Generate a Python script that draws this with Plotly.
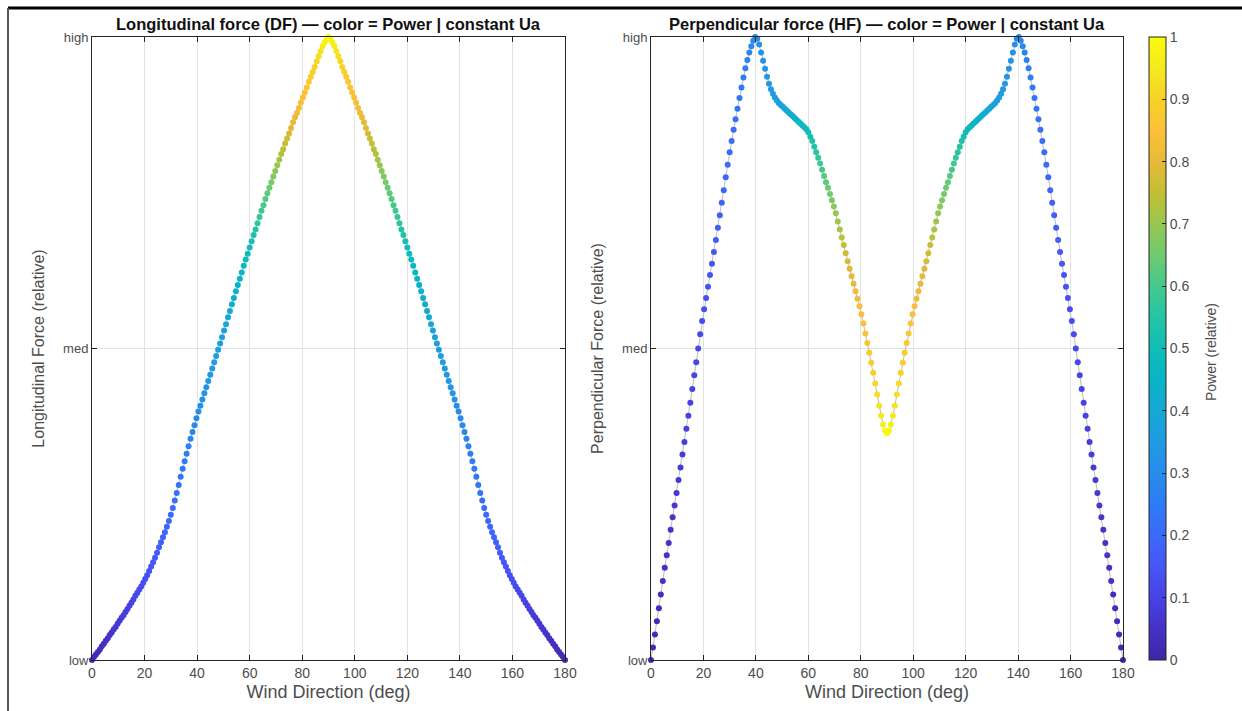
import plotly.graph_objects as go

# ---------------- data ----------------
# wind direction grid: 0 .. 180 deg sampled every 0.75 deg (241 samples)
DIR_STEP = 0.75
direction_deg = [i * DIR_STEP for i in range(241)]

df_rel = [
    0.000, 0.005, 0.009, 0.013, 0.017, 0.022, 0.026, 0.031,
    0.035, 0.040, 0.044, 0.049, 0.053, 0.058, 0.063, 0.068,
    0.072, 0.077, 0.082, 0.087, 0.092, 0.097, 0.103, 0.108,
    0.113, 0.118, 0.124, 0.130, 0.136, 0.143, 0.150, 0.157,
    0.164, 0.172, 0.181, 0.189, 0.197, 0.205, 0.214, 0.223,
    0.233, 0.244, 0.256, 0.268, 0.281, 0.294, 0.307, 0.319,
    0.331, 0.343, 0.355, 0.366, 0.377, 0.388, 0.399, 0.408,
    0.418, 0.428, 0.438, 0.448, 0.458, 0.468, 0.478, 0.488,
    0.498, 0.508, 0.518, 0.529, 0.539, 0.550, 0.560, 0.571,
    0.581, 0.592, 0.602, 0.612, 0.622, 0.633, 0.643, 0.652,
    0.662, 0.672, 0.682, 0.691, 0.701, 0.711, 0.721, 0.730,
    0.740, 0.749, 0.758, 0.767, 0.776, 0.785, 0.794, 0.803,
    0.812, 0.820, 0.829, 0.837, 0.845, 0.854, 0.863, 0.871,
    0.878, 0.886, 0.895, 0.903, 0.911, 0.919, 0.928, 0.936,
    0.944, 0.952, 0.961, 0.969, 0.977, 0.985, 0.991, 0.996,
    1.000,
    0.996, 0.991, 0.985, 0.977, 0.969, 0.961, 0.952, 0.944,
    0.936, 0.928, 0.919, 0.911, 0.903, 0.895, 0.886, 0.878,
    0.871, 0.863, 0.854, 0.845, 0.837, 0.829, 0.820, 0.812,
    0.803, 0.794, 0.785, 0.776, 0.767, 0.758, 0.749, 0.740,
    0.730, 0.721, 0.711, 0.701, 0.691, 0.682, 0.672, 0.662,
    0.652, 0.643, 0.633, 0.622, 0.612, 0.602, 0.592, 0.581,
    0.571, 0.560, 0.550, 0.539, 0.529, 0.518, 0.508, 0.498,
    0.488, 0.478, 0.468, 0.458, 0.448, 0.438, 0.428, 0.418,
    0.408, 0.399, 0.388, 0.377, 0.366, 0.355, 0.343, 0.331,
    0.319, 0.307, 0.294, 0.281, 0.268, 0.256, 0.244, 0.233,
    0.223, 0.214, 0.205, 0.197, 0.189, 0.181, 0.172, 0.164,
    0.157, 0.150, 0.143, 0.136, 0.130, 0.124, 0.118, 0.113,
    0.108, 0.103, 0.097, 0.092, 0.087, 0.082, 0.077, 0.072,
    0.068, 0.063, 0.058, 0.053, 0.049, 0.044, 0.040, 0.035,
    0.031, 0.026, 0.022, 0.017, 0.013, 0.009, 0.005, 0.000,
]

hf_rel = [
    0.000, 0.020, 0.041, 0.062, 0.083, 0.105, 0.127, 0.148,
    0.168, 0.188, 0.209, 0.229, 0.248, 0.268, 0.289, 0.309,
    0.330, 0.350, 0.371, 0.392, 0.413, 0.435, 0.457, 0.478,
    0.500, 0.523, 0.544, 0.563, 0.581, 0.599, 0.618, 0.636,
    0.655, 0.674, 0.694, 0.714, 0.734, 0.754, 0.775, 0.795,
    0.815, 0.833, 0.851, 0.868, 0.885, 0.902, 0.919, 0.935,
    0.950, 0.963, 0.975, 0.985, 0.994, 1.000, 0.997, 0.988,
    0.975, 0.962, 0.949, 0.936, 0.925, 0.916, 0.909, 0.903,
    0.898, 0.894, 0.891, 0.888, 0.885, 0.882, 0.879, 0.876,
    0.873, 0.870, 0.867, 0.864, 0.861, 0.858, 0.855, 0.852,
    0.847, 0.840, 0.833, 0.824, 0.815, 0.806, 0.797, 0.787,
    0.777, 0.767, 0.758, 0.748, 0.738, 0.728, 0.717, 0.704,
    0.691, 0.678, 0.666, 0.653, 0.640, 0.628, 0.616, 0.604,
    0.592, 0.580, 0.568, 0.555, 0.540, 0.524, 0.509, 0.493,
    0.477, 0.461, 0.444, 0.426, 0.408, 0.392, 0.378, 0.368,
    0.364,
    0.368, 0.378, 0.392, 0.408, 0.426, 0.444, 0.461, 0.477,
    0.493, 0.509, 0.524, 0.540, 0.555, 0.568, 0.580, 0.592,
    0.604, 0.616, 0.628, 0.640, 0.653, 0.666, 0.678, 0.691,
    0.704, 0.717, 0.728, 0.738, 0.748, 0.758, 0.767, 0.777,
    0.787, 0.797, 0.806, 0.815, 0.824, 0.833, 0.840, 0.847,
    0.852, 0.855, 0.858, 0.861, 0.864, 0.867, 0.870, 0.873,
    0.876, 0.879, 0.882, 0.885, 0.888, 0.891, 0.894, 0.898,
    0.903, 0.909, 0.916, 0.925, 0.936, 0.949, 0.962, 0.975,
    0.988, 0.997, 1.000, 0.994, 0.985, 0.975, 0.963, 0.950,
    0.935, 0.919, 0.902, 0.885, 0.868, 0.851, 0.833, 0.815,
    0.795, 0.775, 0.754, 0.734, 0.714, 0.694, 0.674, 0.655,
    0.636, 0.618, 0.599, 0.581, 0.563, 0.544, 0.523, 0.500,
    0.478, 0.457, 0.435, 0.413, 0.392, 0.371, 0.350, 0.330,
    0.309, 0.289, 0.268, 0.248, 0.229, 0.209, 0.188, 0.168,
    0.148, 0.127, 0.105, 0.083, 0.062, 0.041, 0.020, 0.000,
]

power_rel = [
    0.020, 0.024, 0.028, 0.031, 0.035, 0.039, 0.043, 0.046,
    0.050, 0.054, 0.058, 0.061, 0.065, 0.069, 0.073, 0.078,
    0.082, 0.087, 0.091, 0.096, 0.100, 0.105, 0.109, 0.114,
    0.118, 0.123, 0.127, 0.132, 0.137, 0.142, 0.148, 0.153,
    0.158, 0.163, 0.169, 0.174, 0.179, 0.184, 0.190, 0.195,
    0.200, 0.208, 0.215, 0.223, 0.230, 0.238, 0.245, 0.253,
    0.260, 0.268, 0.275, 0.283, 0.290, 0.298, 0.304, 0.310,
    0.316, 0.322, 0.328, 0.334, 0.340, 0.346, 0.352, 0.358,
    0.364, 0.370, 0.376, 0.383, 0.392, 0.401, 0.410, 0.419,
    0.428, 0.437, 0.446, 0.455, 0.464, 0.473, 0.482, 0.491,
    0.500, 0.515, 0.530, 0.545, 0.560, 0.575, 0.590, 0.605,
    0.618, 0.632, 0.645, 0.659, 0.672, 0.686, 0.699, 0.713,
    0.726, 0.740, 0.753, 0.767, 0.780, 0.789, 0.798, 0.807,
    0.816, 0.825, 0.834, 0.843, 0.852, 0.861, 0.870, 0.879,
    0.888, 0.897, 0.910, 0.925, 0.940, 0.955, 0.970, 0.985,
    1.000,
    0.985, 0.970, 0.955, 0.940, 0.925, 0.910, 0.897, 0.888,
    0.879, 0.870, 0.861, 0.852, 0.843, 0.834, 0.825, 0.816,
    0.807, 0.798, 0.789, 0.780, 0.767, 0.753, 0.740, 0.726,
    0.713, 0.699, 0.686, 0.672, 0.659, 0.645, 0.632, 0.618,
    0.605, 0.590, 0.575, 0.560, 0.545, 0.530, 0.515, 0.500,
    0.491, 0.482, 0.473, 0.464, 0.455, 0.446, 0.437, 0.428,
    0.419, 0.410, 0.401, 0.392, 0.383, 0.376, 0.370, 0.364,
    0.358, 0.352, 0.346, 0.340, 0.334, 0.328, 0.322, 0.316,
    0.310, 0.304, 0.298, 0.290, 0.283, 0.275, 0.268, 0.260,
    0.253, 0.245, 0.238, 0.230, 0.223, 0.215, 0.208, 0.200,
    0.195, 0.190, 0.184, 0.179, 0.174, 0.169, 0.163, 0.158,
    0.153, 0.148, 0.142, 0.137, 0.132, 0.127, 0.123, 0.118,
    0.114, 0.109, 0.105, 0.100, 0.096, 0.091, 0.087, 0.082,
    0.078, 0.073, 0.069, 0.065, 0.061, 0.058, 0.054, 0.050,
    0.046, 0.043, 0.039, 0.035, 0.031, 0.028, 0.024, 0.020,
]

assert len(df_rel) == len(hf_rel) == len(power_rel) == len(direction_deg)

x_tick_vals = [0, 20, 40, 60, 80, 100, 120, 140, 160, 180]
y_tick_vals = [0, 0.5, 1]
y_tick_text = ["low", "med", "high"]
cbar_tick_vals = [0, 0.1, 0.2, 0.3, 0.4, 0.5, 0.6, 0.7, 0.8, 0.9, 1]
cbar_tick_text = ["0", "0.1", "0.2", "0.3", "0.4", "0.5", "0.6", "0.7", "0.8", "0.9", "1"]

# ---------------- style ----------------
parula = [
    [0.00, "rgb(62,38,168)"],
    [0.05, "rgb(69,50,199)"],
    [0.10, "rgb(71,66,228)"],
    [0.15, "rgb(70,86,246)"],
    [0.20, "rgb(59,106,252)"],
    [0.25, "rgb(46,124,246)"],
    [0.30, "rgb(40,140,236)"],
    [0.35, "rgb(32,155,226)"],
    [0.40, "rgb(22,168,212)"],
    [0.45, "rgb(8,180,198)"],
    [0.50, "rgb(16,189,183)"],
    [0.55, "rgb(38,196,165)"],
    [0.60, "rgb(68,201,142)"],
    [0.65, "rgb(110,203,113)"],
    [0.70, "rgb(152,199,80)"],
    [0.75, "rgb(194,191,52)"],
    [0.80, "rgb(232,185,58)"],
    [0.85, "rgb(253,192,56)"],
    [0.90, "rgb(246,211,40)"],
    [0.95, "rgb(245,233,30)"],
    [1.00, "rgb(249,251,14)"],
]

FONT = "Liberation Sans, Arial, Helvetica, sans-serif"
AX_COLOR = "#262626"
TXT_COLOR = "#4d4d4d"
GRID = "#e3e3e3"

W, H = 1242, 711
L, R, T, B = 92, 1242 - 1123, 37, 711 - 660
PW, PH = W - L - R, H - T - B

fig = go.Figure()

for series, xa, ya, show in [(df_rel, "x", "y", False), (hf_rel, "x2", "y2", True)]:
    fig.add_trace(go.Scatter(
        x=direction_deg, y=series, xaxis=xa, yaxis=ya,
        mode="lines+markers",
        line=dict(color="rgba(170,170,170,0.8)", width=1),
        marker=dict(
            size=6, color=power_rel, colorscale=parula, cmin=0, cmax=1,
            showscale=show,
            colorbar=dict(
                x=(1149 - L) / PW, xanchor="left", xref="paper", xpad=0,
                y=0.5, yanchor="middle", len=1, lenmode="fraction", ypad=0,
                thickness=17, outlinewidth=1, outlinecolor=AX_COLOR,
                tickvals=cbar_tick_vals, ticktext=cbar_tick_text,
                ticks="inside", ticklen=4, tickcolor=AX_COLOR,
                tickfont=dict(size=14, color=TXT_COLOR, family=FONT),
            ),
        ),
        cliponaxis=False,
        showlegend=False,
        hoverinfo="skip",
    ))

left_dom = [0, (565 - L) / PW]
right_dom = [(651 - L) / PW, 1]

xcommon = dict(
    range=[0, 180], tickvals=x_tick_vals, ticks="inside", ticklen=5,
    tickcolor=AX_COLOR, showline=True, linecolor=AX_COLOR, linewidth=1,
    mirror="ticks", showgrid=True, gridcolor=GRID, gridwidth=1, zeroline=False,
    tickfont=dict(size=14, color=TXT_COLOR, family=FONT),
    title=dict(text="Wind Direction (deg)", standoff=5,
               font=dict(size=18, color=TXT_COLOR, family=FONT)),
)
ycommon = dict(
    range=[0, 1], tickvals=y_tick_vals, ticktext=y_tick_text, ticks="inside",
    ticklen=5, tickcolor=AX_COLOR, showline=True, linecolor=AX_COLOR,
    linewidth=1, mirror="ticks", showgrid=True, gridcolor=GRID, gridwidth=1,
    zeroline=False, tickfont=dict(size=13, color=TXT_COLOR, family=FONT),
)

fig.update_layout(
    width=W, height=H,
    margin=dict(l=L, r=R, t=T, b=B),
    paper_bgcolor="white", plot_bgcolor="white",
    font=dict(family=FONT, color=TXT_COLOR),
    xaxis=dict(domain=left_dom, anchor="y", **xcommon),
    yaxis=dict(domain=[0, 1], anchor="x",
               title=dict(text="Longitudinal Force (relative)", standoff=14,
                          font=dict(size=16, color=TXT_COLOR, family=FONT)),
               **ycommon),
    xaxis2=dict(domain=right_dom, anchor="y2", **xcommon),
    yaxis2=dict(domain=[0, 1], anchor="x2",
                title=dict(text="Perpendicular Force (relative)", standoff=14,
                           font=dict(size=16, color=TXT_COLOR, family=FONT)),
                **ycommon),
    annotations=[
        dict(text="<b>Longitudinal force (DF) — color = Power | constant Ua</b>",
             xref="paper", yref="paper", x=(left_dom[0] + left_dom[1]) / 2,
             xanchor="center", y=1.0, yanchor="bottom", yshift=2,
             showarrow=False,
             font=dict(size=16.5, color="#111111", family=FONT)),
        dict(text="<b>Perpendicular force (HF) — color = Power | constant Ua</b>",
             xref="paper", yref="paper", x=(right_dom[0] + right_dom[1]) / 2,
             xanchor="center", y=1.0, yanchor="bottom", yshift=2,
             showarrow=False,
             font=dict(size=16.5, color="#111111", family=FONT)),
        dict(text="Power (relative)", textangle=-90,
             xref="paper", yref="paper", x=(1211 - L) / PW, y=(660 - 352) / PH,
             xanchor="center", yanchor="middle", showarrow=False,
             font=dict(size=14, color=TXT_COLOR, family=FONT)),
    ],
    shapes=[
        dict(type="line", xref="paper", yref="paper",
             x0=(8 - L) / PW, x1=(W - L) / PW,
             y0=(660 - 8) / PH, y1=(660 - 8) / PH,
             line=dict(color="black", width=3)),
        dict(type="line", xref="paper", yref="paper",
             x0=(8 - L) / PW, x1=(8 - L) / PW,
             y0=(660 - 8) / PH, y1=(660 - H) / PH,
             line=dict(color="#555555", width=2)),
    ],
)

fig.write_html("out.html")
